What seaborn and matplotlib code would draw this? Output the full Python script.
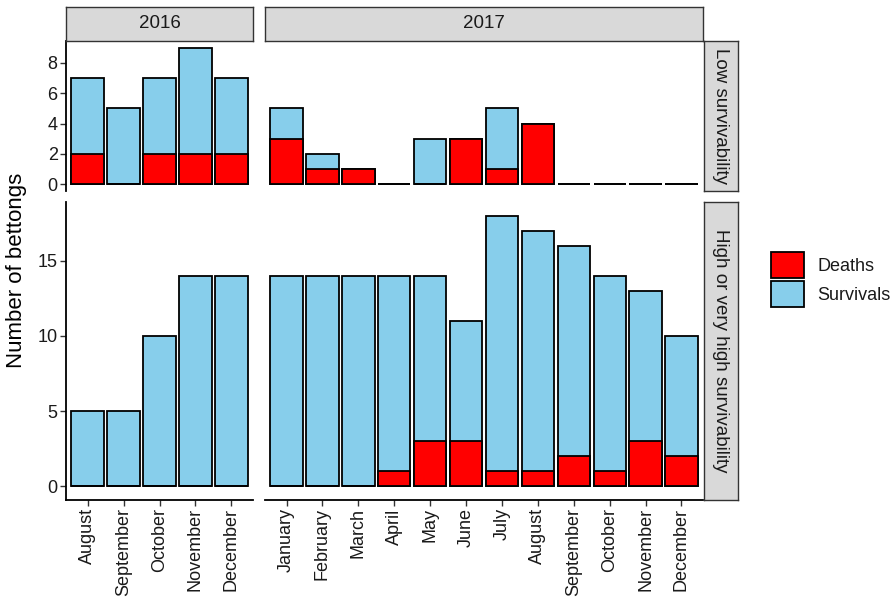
import numpy as np
import pandas as pd
import matplotlib
matplotlib.use("Agg")
import matplotlib.pyplot as plt
import seaborn as sns
from matplotlib.patches import Patch

# ---------------- data ----------------
months_2016 = ["August", "September", "October", "November", "December"]
months_2017 = ["January", "February", "March", "April", "May", "June", "July",
               "August", "September", "October", "November", "December"]

low_deaths_2016 = [2, 0, 2, 2, 2]
low_surv_2016 = [5, 5, 5, 7, 5]
low_deaths_2017 = [3, 1, 1, 0, 0, 3, 1, 4, 0, 0, 0, 0]
low_surv_2017 = [2, 1, 0, 0, 3, 0, 4, 0, 0, 0, 0, 0]

high_deaths_2016 = [0, 0, 0, 0, 0]
high_surv_2016 = [5, 5, 10, 14, 14]
high_deaths_2017 = [0, 0, 0, 1, 3, 3, 1, 1, 2, 1, 3, 2]
high_surv_2017 = [14, 14, 14, 13, 11, 8, 17, 16, 14, 13, 10, 8]

years = ["2016", "2017"]
groups = ["Low survivability", "High or very high survivability"]
y_ticks = {"Low survivability": [0, 2, 4, 6, 8],
           "High or very high survivability": [0, 5, 10, 15]}

rows = []
for yr, months, ld, ls, hd, hs in [
        ("2016", months_2016, low_deaths_2016, low_surv_2016, high_deaths_2016, high_surv_2016),
        ("2017", months_2017, low_deaths_2017, low_surv_2017, high_deaths_2017, high_surv_2017)]:
    for i, m in enumerate(months):
        rows.append(dict(year=yr, group=groups[0], month=m, deaths=ld[i], survivals=ls[i]))
        rows.append(dict(year=yr, group=groups[1], month=m, deaths=hd[i], survivals=hs[i]))
df = pd.DataFrame(rows)
df["total"] = df["deaths"] + df["survivals"]
month_order = {"2016": months_2016, "2017": months_2017}

# ---------------- style ----------------
sns.set_style("ticks")
plt.rcParams["font.family"] = ["Liberation Sans", "DejaVu Sans"]

RED = "#FF0000"
BLUE = "#87CEEB"
TXT = "#1A1A1A"
STRIP_FILL = "#D9D9D9"
STRIP_EDGE = "#333333"
TICK_FS = 13
STRIP_FS = 13.5

W, H = 894, 599
fig = plt.figure(figsize=(W / 100, H / 100), dpi=100)


def px_axes(x0, y0, x1, y1):
    return fig.add_axes([x0 / W, 1 - y1 / H, (x1 - x0) / W, (y1 - y0) / H])


col_px = {"2016": (66, 253), "2017": (265, 703)}
row_px = {groups[0]: (41, 191), groups[1]: (202, 500)}

for g in groups:
    for yr in years:
        x0, x1 = col_px[yr]
        y0, y1 = row_px[g]
        ax = px_axes(x0, y0, x1, y1)
        sub = df[(df.year == yr) & (df.group == g)]
        order = month_order[yr]
        sns.barplot(data=sub, x="month", y="total", order=order, color=BLUE,
                    saturation=1, edgecolor="black", linewidth=1.3, width=0.9,
                    errorbar=None, ax=ax)
        sns.barplot(data=sub, x="month", y="deaths", order=order, color=RED,
                    saturation=1, edgecolor="black", linewidth=1.3, width=0.9,
                    errorbar=None, ax=ax)
        n = len(order)
        ax.set_xlim(-0.6, n - 0.4)
        ymax = df[df.group == g]["total"].max()
        pad = ymax * 0.05
        ax.set_ylim(-pad, ymax + pad)
        ax.set_xlabel("")
        ax.set_ylabel("")
        ax.set_facecolor("white")
        for s in ["top", "right"]:
            ax.spines[s].set_visible(False)
        for s in ["left", "bottom"]:
            ax.spines[s].set_linewidth(1.3)
            ax.spines[s].set_color("black")
        ax.tick_params(axis="both", length=4, width=1, color="#333333",
                       labelsize=TICK_FS, labelcolor=TXT, pad=2)
        if g == groups[0]:
            ax.spines["bottom"].set_visible(False)
            ax.tick_params(axis="x", bottom=False, labelbottom=False)
        else:
            ax.tick_params(axis="x", labelrotation=90)
            for lab in ax.get_xticklabels():
                lab.set_verticalalignment("top")
                lab.set_horizontalalignment("center")
        if yr == "2017":
            ax.spines["left"].set_visible(False)
            ax.tick_params(axis="y", left=False, labelleft=False)
        else:
            ax.set_yticks(y_ticks[g])

# column strips
for yr in years:
    x0, x1 = col_px[yr]
    sax = px_axes(x0, 7, x1, 41)
    sax.set_facecolor(STRIP_FILL)
    sax.set_xticks([]); sax.set_yticks([])
    for s in sax.spines.values():
        s.set_color(STRIP_EDGE); s.set_linewidth(1.0)
    sax.text(0.5, 0.5, yr, ha="center", va="center", fontsize=STRIP_FS, color=TXT,
             transform=sax.transAxes)

# row strips
for g in groups:
    y0, y1 = row_px[g]
    sax = px_axes(704, y0, 738, y1)
    sax.set_facecolor(STRIP_FILL)
    sax.set_xticks([]); sax.set_yticks([])
    for s in sax.spines.values():
        s.set_color(STRIP_EDGE); s.set_linewidth(1.0)
    sax.text(0.5, 0.5, g, ha="center", va="center", fontsize=STRIP_FS, color=TXT,
             rotation=-90, transform=sax.transAxes)

fig.text(17 / W, 1 - 270 / H, "Number of bettongs", rotation=90,
         ha="center", va="center", fontsize=16, color="black")

handles = [Patch(facecolor=RED, edgecolor="black", linewidth=1.3, label="Deaths"),
           Patch(facecolor=BLUE, edgecolor="black", linewidth=1.3, label="Survivals")]
fig.legend(handles=handles, loc="upper left", bbox_to_anchor=(771 / W, 1 - 252 / H),
           frameon=False, fontsize=TICK_FS, borderpad=0, borderaxespad=0,
           handlelength=1.83, handleheight=1.83, labelspacing=0.17,
           handletextpad=0.75, labelcolor=TXT)

fig.savefig("out.png", dpi=100)
